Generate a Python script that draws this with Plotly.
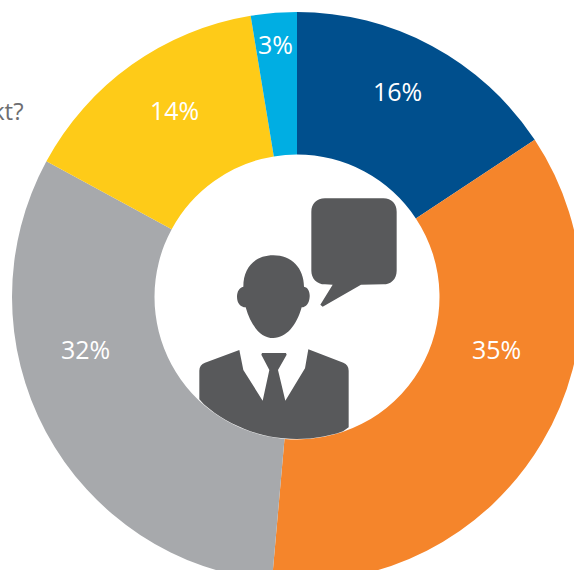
import math
import plotly.graph_objects as go

labels = ["A", "B", "C", "D", "E"]
values = [15.7, 35.7, 31.5, 14.5, 2.6]
value_labels = ["16%", "35%", "32%", "14%", "3%"]
colors = ["#004f8d", "#f5852b", "#a7a9ac", "#fecb18", "#00aee3"]
label_px = [(397, 91), (496, 349), (86, 349), (174, 110), (275, 44)]
clipped_text = "kt?"

ICON = "#58595b"
OX, OY, SIDE = 12, 12, 570
CX, CY, R_IN = 297, 296.5, 142.5


def px(x, y):
    return (x - OX) / SIDE, (OY + SIDE - y) / SIDE


def z(x, y):
    a, b = px(x / 3 + 180, y / 3 + 180)
    return f"{a:.5f},{b:.5f}"


def path(cmds):
    out = []
    for c in cmds:
        out.append(c[0] + " ".join(z(*p) for p in c[1:]))
    return " ".join(out) + " Z"


bubble = path([
    ("M", (435, 55)), ("L", (610, 55)), ("C", (635, 55), (650, 72), (650, 95)),
    ("L", (650, 272)), ("C", (650, 298), (632, 313), (610, 313)),
    ("L", (543, 314)), ("L", (428, 380)), ("L", (421, 374)), ("L", (458, 314)),
    ("L", (435, 313)), ("C", (410, 313), (394, 295), (394, 272)),
    ("L", (394, 95)), ("C", (394, 72), (410, 55), (435, 55)),
])
head = path([
    ("M", (190, 320)), ("C", (190, 262), (225, 226), (280, 226)),
    ("C", (335, 226), (372, 265), (372, 320)),
    ("C", (385, 322), (390, 338), (389, 350)),
    ("C", (388, 370), (378, 381), (365, 382)),
    ("C", (350, 435), (320, 474), (280, 474)),
    ("C", (240, 474), (212, 435), (197, 382)),
    ("C", (182, 381), (171, 370), (171, 350)),
    ("C", (171, 335), (178, 322), (190, 320)),
])
a1 = math.atan2(427.3 - CY, 348.7 - CX)
a2 = math.atan2(399.3 - CY, 199.3 - CX)
arc = []
for i in range(1, 24):
    t = a1 + (a2 - a1) * i / 24
    x = CX + R_IN * math.cos(t)
    y = CY + R_IN * math.sin(t)
    arc.append(("L", ((x - 180) * 3, (y - 180) * 3)))
suit = path([
    ("M", (178, 510)), ("L", (190, 570)), ("L", (248, 662)), ("L", (268, 570)),
    ("L", (244, 524)), ("L", (246, 519)), ("L", (318, 519)), ("L", (320, 524)),
    ("L", (294, 570)), ("L", (316, 662)), ("L", (375, 565)), ("L", (385, 508)),
    ("L", (490, 548)), ("C", (500, 552), (506, 560), (506, 572)),
    ("L", (506, 742)), *arc, ("L", (58, 658)), ("L", (58, 572)),
    ("C", (58, 560), (64, 552), (75, 548)),
])

fig = go.Figure(go.Pie(
    labels=labels, values=values, hole=0.5, sort=False, direction="clockwise",
    rotation=0, marker=dict(colors=colors, line=dict(width=0)),
    textinfo="none", hoverinfo="skip", showlegend=False,
))
ann = []
for t, (x, y) in zip(value_labels, label_px):
    a, b = px(x, y)
    ann.append(dict(text=t, x=a, y=b, xref="paper", yref="paper", showarrow=False,
                    xanchor="center", yanchor="middle",
                    font=dict(family="Open Sans", size=25, color="white")))
a, b = px(26, 111)
ann.append(dict(text=clipped_text, x=a, y=b, xref="paper", yref="paper", showarrow=False,
                xanchor="right", yanchor="middle",
                font=dict(family="Open Sans", size=24, color="#6d6e71")))
fig.update_layout(
    width=OX + SIDE, height=OY + SIDE,
    margin=dict(l=OX, t=OY, r=0, b=0, autoexpand=False),
    paper_bgcolor="white", plot_bgcolor="white",
    annotations=ann,
    shapes=[dict(type="path", path=p, xref="paper", yref="paper",
                 fillcolor=ICON, line=dict(width=0), layer="above")
            for p in (bubble, head, suit)],
)
fig.write_html("out.html", config={"displayModeBar": False},
               post_script="document.documentElement.style.overflow='hidden';document.body.style.overflow='hidden';document.body.style.margin='0';")
